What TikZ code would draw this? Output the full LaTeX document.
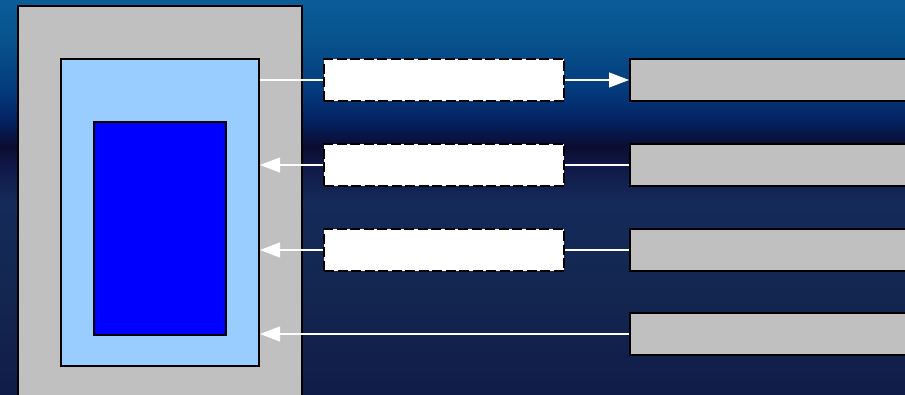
\documentclass[tikz,border=0pt]{standalone}
\usetikzlibrary{arrows.meta}

% background: night sky blue
\pgfdeclareverticalshading{nightsky}{100bp}{%
  color(0bp)=(rgb,255:red,16;green,28;blue,72);
  color(25bp)=(rgb,255:red,16;green,28;blue,72);
  color(37bp)=(rgb,255:red,19;green,38;blue,79);
  color(49.5bp)=(rgb,255:red,20;green,42;blue,90);
  color(54bp)=(rgb,255:red,16;green,24;blue,72);
  color(56.5bp)=(rgb,255:red,10;green,12;blue,48);
  color(59.75bp)=(rgb,255:red,4;green,34;blue,98);
  color(63.5bp)=(rgb,255:red,4;green,58;blue,124);
  color(70bp)=(rgb,255:red,7;green,83;blue,142);
  color(75bp)=(rgb,255:red,10;green,92;blue,152);
  color(100bp)=(rgb,255:red,10;green,92;blue,152)}

\definecolor{panelgray}{RGB}{192,192,192}
\definecolor{skyblue}{RGB}{153,204,255}
\definecolor{deepblue}{RGB}{0,0,255}

\begin{document}
\begin{tikzpicture}[x=1pt,y=-1pt,
  block/.style={draw=black,line width=2pt,anchor=north west,inner sep=0pt},
  slot/.style={block,fill=white,line width=2.4pt,dash pattern=on 10pt off 3.5pt,
    minimum width=240pt,minimum height=42pt},
  port/.style={block,fill=panelgray,minimum width=300pt,minimum height=42pt},
  link/.style={white,line width=1.1pt},
  tip/.style={link,-{Triangle[length=20pt,width=15pt]}}]
\useasboundingbox (0,0) rectangle (905,395);
\clip (0,0) rectangle (905,395);
\shade[shading=nightsky] (0,0) rectangle (905,395);

% nested blocks
\node[block,fill=panelgray,line width=2.2pt,minimum width=284pt,minimum height=420pt] (outer) at (17,5) {};
\node[block,fill=skyblue,minimum width=198pt,minimum height=307pt] (middle) at (60,58) {};
\node[block,fill=deepblue,minimum width=132pt,minimum height=213pt] (inner) at (93,121) {};

% right column
\node[port] (p1) at (629,58) {};
\node[port] (p2) at (629,143) {};
\node[port] (p3) at (629,228) {};
\node[port] (p4) at (629,312) {};

\coordinate (e1) at (middle.east |- p1.west);
\coordinate (e2) at (middle.east |- p2.west);
\coordinate (e3) at (middle.east |- p3.west);
\coordinate (e4) at (middle.east |- p4.west);

% connectors
\draw[tip] (p2.west) -- (e2);
\draw[tip] (p3.west) -- (e3);
\draw[tip] (p4.west) -- (e4);
\draw[tip] (e1) -- (p1.west);

% dashed slots
\node[slot] (s1) at (323,58) {};
\node[slot] (s2) at (323,143) {};
\node[slot] (s3) at (323,228) {};
\end{tikzpicture}
\end{document}
